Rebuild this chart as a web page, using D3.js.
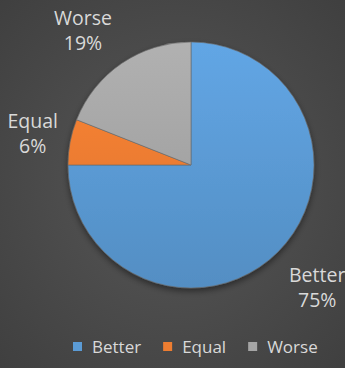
<!DOCTYPE html>
<html>
<head>
<meta charset="utf-8">
<script src="https://cdn.jsdelivr.net/npm/d3@7"></script>
<style>
  body { margin: 0; background: #4a4a4a; }
  text { font-family: "Open Sans", "Noto Sans", sans-serif; fill: #d9d9d9; }
</style>
</head>
<body>
<div id="chart"></div>
<script>
var categories = ["Better", "Equal", "Worse"];
var values = [75, 6, 19];
var colors = ["#5b9bd5", "#ed7d31", "#a5a5a5"];

var total_width = 345,
    total_height = 368;

var cx = 191, cy = 165, radius = 123;

var svg = d3.select("#chart").append("svg")
    .attr("width", total_width)
    .attr("height", total_height);

var defs = svg.append("defs");

// background gradient, a bit lighter in the middle
var bg = defs.append("radialGradient")
    .attr("id", "bg")
    .attr("cx", "50%").attr("cy", "50%").attr("r", "72%");
bg.append("stop").attr("offset", "0%").attr("stop-color", "#575757");
bg.append("stop").attr("offset", "100%").attr("stop-color", "#3f3f3f");

svg.append("rect")
    .attr("width", total_width)
    .attr("height", total_height)
    .attr("fill", "url(#bg)");

// soft shadow under the pie
var shadow = defs.append("filter")
    .attr("id", "shadow")
    .attr("x", "-20%").attr("y", "-20%")
    .attr("width", "140%").attr("height", "140%");
shadow.append("feDropShadow")
    .attr("dx", 0).attr("dy", 3)
    .attr("stdDeviation", 3)
    .attr("flood-color", "#000")
    .attr("flood-opacity", 0.45);

// slice gradients, lighter on top
colors.forEach(function(c, i) {
  var g = defs.append("linearGradient")
      .attr("id", "grad" + i)
      .attr("gradientUnits", "userSpaceOnUse")
      .attr("x1", 0).attr("y1", -radius)
      .attr("x2", 0).attr("y2", radius);
  g.append("stop").attr("offset", "0%").attr("stop-color", d3.color(c).brighter(0.2));
  g.append("stop").attr("offset", "100%").attr("stop-color", d3.color(c).darker(0.25));
});

var data = categories.map(function(d, i) { return {name: d, value: values[i], idx: i}; });

var pie = d3.pie()
    .sort(null)
    .value(function(d) { return d.value; });

var arc = d3.arc()
    .innerRadius(0)
    .outerRadius(radius);

var g = svg.append("g")
    .attr("transform", "translate(" + cx + "," + cy + ")");

g.append("g")
    .attr("filter", "url(#shadow)")
  .selectAll("path.slice")
  .data(pie(data))
  .enter()
  .append("path")
    .attr("class", "slice")
    .attr("d", arc)
    .attr("fill", function(d) { return "url(#grad" + d.data.idx + ")"; })
    .attr("stroke", "#6a6a6a")
    .attr("stroke-width", 0.6);

// data labels, outside the pie
var labelArc = d3.arc()
    .innerRadius(radius + 30)
    .outerRadius(radius + 30);

// nudges so labels sit where the reference puts them
var labelOffsets = [[18, 22], [-8, 5], [-22, 0]];

var labels = g.selectAll("text.label")
  .data(pie(data))
  .enter()
  .append("text")
    .attr("class", "label")
    .attr("text-anchor", "middle")
    .attr("font-size", 19.5)
    .attr("transform", function(d) {
      var p = labelArc.centroid(d);
      var o = labelOffsets[d.data.idx];
      return "translate(" + (p[0] + o[0]) + "," + (p[1] + o[1]) + ")";
    });

labels.append("tspan")
    .attr("x", 0)
    .attr("y", -13)
    .text(function(d) { return d.data.name; });

labels.append("tspan")
    .attr("x", 0)
    .attr("y", 12)
    .text(function(d) { return d.data.value + "%"; });

// legend, items flowed one after another
var legend = svg.append("g")
    .attr("transform", "translate(0,353)");

var lx = 73;
categories.forEach(function(name, i) {
  var item = legend.append("g")
      .attr("transform", "translate(" + lx + ",0)");
  item.append("rect")
      .attr("x", 0)
      .attr("y", -11)
      .attr("width", 9)
      .attr("height", 9)
      .attr("fill", colors[i]);
  var t = item.append("text")
      .attr("x", 19)
      .attr("y", 0)
      .attr("font-size", 17)
      .text(name);
  lx += 19 + t.node().getComputedTextLength() + 22;
});
</script>
</body>
</html>
